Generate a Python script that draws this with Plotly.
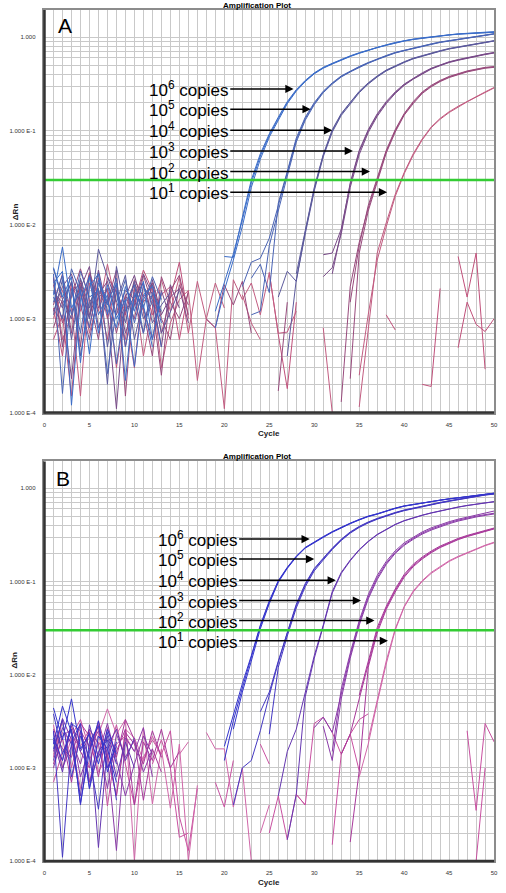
import plotly.graph_objects as go

N = None
cycles = list(range(1, 51))
threshold = 0.03
copy_exponents = [6, 5, 4, 3, 2, 1]
ytick_values = [1e-4, 1e-3, 1e-2, 1e-1, 1.0]
ytick_labels = ["1.000 E-4", "1.000 E-3", "1.000 E-2", "1.000 E-1", "1.000"]
xtick_values = [0, 5, 10, 15, 20, 25, 30, 35, 40, 45, 50]
xtick_labels = ["0", "5", "10", "15", "20", "25", "30", "35", "40", "45", "50"]

# ---------------- Panel A : delta Rn per cycle (replicates per dilution) ----------------
A_1e6 = [
    [3.5e-3, 1.7e-3, 2.8e-3, 3.4e-4, 2.2e-3, 3.0e-3, 1.1e-3, 2.4e-3, 2.2e-4, 1.9e-3,
     1.4e-3, 5e-4, N, N, N, N, N, N, 1.2e-3, 2.4e-3,
     4.9e-3, 1.12e-2, 2.8e-2, 5.4e-2, 9.0e-2, 0.135, 0.2, 0.27, 0.34, 0.41,
     0.47, 0.52, 0.575, 0.625, 0.675, 0.725, 0.775, 0.82, 0.87, 0.91,
     0.945, 0.975, 1.0, 1.03, 1.055, 1.075, 1.09, 1.1, 1.12, 1.13],
    [1.8e-3, 5.8e-3, 1.3e-3, 2.0e-3, 4.2e-4, 2.6e-3, 1.5e-3, 8e-4, 2.2e-3, 1.2e-3,
     2.5e-3, 6e-4, 1.9e-3, N, N, N, N, N, 8e-4, 2.0e-3,
     4.2e-3, 9.6e-3, 2.5e-2, 5.0e-2, 8.6e-2, 0.13, 0.195, 0.265, 0.335, 0.405,
     0.465, 0.515, 0.57, 0.62, 0.67, 0.72, 0.77, 0.815, 0.865, 0.905,
     0.94, 0.97, 0.995, 1.025, 1.05, 1.07, 1.085, 1.095, 1.11, 1.12],
    [2.4e-3, 3.2e-3, 1.2e-4, 1.6e-3, 2.8e-3, 7e-4, 2.3e-3, 1.0e-3, 1.6e-3, 3.1e-4,
     1.8e-3, 2.2e-3, 9e-4, N, N, N, N, N, N, 4.6e-3,
     4.5e-3, 1.2e-2, 3.0e-2, 5.7e-2, 9.3e-2, 0.14, 0.205, 0.275, 0.345, 0.415,
     0.475, 0.525, 0.58, 0.63, 0.68, 0.73, 0.78, 0.825, 0.875, 0.915,
     0.95, 0.98, 1.005, 1.035, 1.06, 1.08, 1.095, 1.105, 1.125, 1.14],
]
A_1e5 = [
    [1.5e-3, 2.9e-3, 1.1e-3, 3.2e-3, 1.7e-3, 2.0e-3, 2.6e-4, 1.3e-3, 2.6e-3, 9e-4,
     2.2e-3, 1.6e-3, 5e-4, N, N, N, N, N, N, N,
     N, 2.2e-3, 4.0e-3, 4.4e-3, 7.2e-3, 1.6e-2, 3.5e-2, 8.0e-2, 0.135, 0.195,
     0.26, 0.32, 0.38, 0.43, 0.48, 0.53, 0.58, 0.63, 0.68, 0.72,
     0.76, 0.8, 0.84, 0.88, 0.91, 0.94, 0.97, 1.0, 1.04, 1.08],
    [3.0e-3, 1.6e-4, 2.1e-3, 7e-4, 2.9e-3, 1.1e-3, 1.8e-3, 3.3e-4, 1.5e-3, 2.3e-3,
     7e-4, 1.9e-3, 1.2e-3, N, N, N, N, N, N, N,
     N, N, 1.1e-3, 1.2e-3, 6.0e-3, 1.45e-2, 3.3e-2, 7.6e-2, 0.13, 0.19,
     0.255, 0.315, 0.375, 0.425, 0.475, 0.525, 0.575, 0.625, 0.675, 0.715,
     0.755, 0.795, 0.835, 0.875, 0.905, 0.935, 0.965, 0.995, 1.035, 1.075],
    [1.7e-3, 1.0e-3, 3.4e-3, 1.9e-3, 8e-4, 2.4e-3, 1.4e-3, 2.7e-3, 5e-4, 1.8e-3,
     1.3e-3, 2.8e-3, 1.6e-3, N, N, N, N, N, N, N,
     N, N, 2.7e-3, 3.8e-3, 1.9e-3, 1.7e-2, 3.7e-2, 8.4e-2, 0.14, 0.2,
     0.265, 0.325, 0.385, 0.435, 0.485, 0.535, 0.585, 0.635, 0.685, 0.725,
     0.765, 0.805, 0.845, 0.885, 0.915, 0.945, 0.975, 1.005, 1.045, 1.085],
]
A_1e4 = [
    [2.0e-3, 1.3e-3, 2.5e-3, 4e-4, 1.5e-3, 2.1e-3, 2.0e-4, 3.6e-3, 1.2e-3, 1.7e-3,
     2.4e-3, 9e-4, 1.4e-3, 1.9e-3, N, N, N, N, N, N,
     N, N, N, N, N, 1.7e-3, 3.2e-3, 2.5e-3, 8.5e-3, 2.4e-2,
     5.5e-2, 0.1, 0.15, 0.2, 0.26, 0.32, 0.38, 0.44, 0.49, 0.54,
     0.59, 0.63, 0.67, 0.71, 0.75, 0.78, 0.82, 0.85, 0.88, 0.91],
    [1.1e-3, 2.6e-3, 6e-4, 2.2e-3, 1.0e-3, 5.5e-3, 2.8e-3, 1.5e-3, 2.9e-3, 6e-4,
     1.6e-3, 2.3e-3, 7e-4, 1.2e-3, 2.0e-3, N, N, N, N, N,
     N, N, N, N, N, N, 4e-4, 2.6e-3, 8.0e-3, 2.3e-2,
     5.3e-2, 0.097, 0.146, 0.195, 0.255, 0.315, 0.375, 0.435, 0.485, 0.535,
     0.585, 0.625, 0.665, 0.705, 0.745, 0.775, 0.815, 0.845, 0.875, 0.905],
    [3.4e-3, 1.6e-3, 1.0e-3, 2.7e-3, 1.3e-3, 3.1e-3, 5e-4, 2.0e-3, 9e-4, 2.5e-3,
     1.0e-3, 1.5e-3, N, N, N, N, N, N, N, N,
     N, N, N, N, N, N, N, 3.0e-3, 9.0e-3, 2.5e-2,
     5.6e-2, 0.103, 0.153, 0.204, 0.264, 0.325, 0.385, 0.445, 0.495, 0.545,
     0.595, 0.635, 0.675, 0.715, 0.755, 0.785, 0.825, 0.855, 0.885, 0.915],
]
A_1e3 = [
    [1.2e-3, 2.2e-3, 3.0e-3, 1.4e-3, 6e-4, 1.8e-3, 2.5e-3, 1.1e-3, 2.0e-3, 1.6e-3,
     7e-4, 2.6e-3, 1.1e-3, 1.7e-3, 2.1e-3, 9e-4, N, N, N, N,
     N, N, N, N, N, N, N, N, N, N,
     4.8e-3, 5.0e-3, 9.0e-3, 2.7e-2, 6.0e-2, 0.1, 0.148, 0.2, 0.255, 0.31,
     0.36, 0.41, 0.46, 0.5, 0.54, 0.57, 0.6, 0.63, 0.655, 0.68],
    [2.7e-3, 5e-4, 1.9e-3, 2.4e-3, 1.0e-3, 3.3e-3, 1.2e-3, 1.1e-4, 1.7e-3, 2.9e-3,
     1.3e-3, 6e-4, 2.0e-3, 1.0e-3, N, N, N, N, N, N,
     N, N, N, N, N, N, N, N, N, N,
     2.8e-3, 3.5e-3, 8.0e-3, 2.5e-2, 5.6e-2, 0.096, 0.143, 0.195, 0.25, 0.305,
     0.355, 0.405, 0.455, 0.495, 0.535, 0.565, 0.595, 0.625, 0.65, 0.675],
    [1.9e-3, 1.5e-3, 2.3e-4, 2.1e-3, 3.6e-3, 8e-4, 1.6e-3, 2.3e-3, 7e-4, 1.4e-3,
     3.0e-3, 1.8e-3, 5e-4, 2.3e-3, 1.3e-3, N, N, N, N, N,
     N, N, N, N, N, N, N, N, N, N,
     N, 3.0e-3, 8.6e-3, 2.8e-2, 6.2e-2, 0.103, 0.152, 0.205, 0.26, 0.315,
     0.365, 0.415, 0.465, 0.505, 0.545, 0.575, 0.605, 0.635, 0.66, 0.685],
]
A_1e2 = [
    [1.4e-3, 3.0e-3, 7e-4, 2.6e-3, 1.1e-3, 2.0e-3, 1.5e-3, 3.3e-3, 1.5e-4, 2.2e-3,
     1.2e-3, 4e-4, 2.8e-3, 1.5e-3, 1.0e-3, 1.9e-3, N, 1.0e-3, 8e-4, 2.3e-3,
     1.4e-3, 2.5e-3, 7e-4, N, N, 1.7e-4, 1.5e-3, N, N, N,
     N, N, 1.3e-4, 2.2e-3, 6.5e-3, 1.5e-2, 3.0e-2, 6.0e-2, 0.1, 0.15,
     0.2, 0.255, 0.3, 0.34, 0.375, 0.405, 0.43, 0.45, 0.47, 0.48],
    [8e-4, 1.6e-3, 2.4e-3, 5e-4, 3.0e-3, 1.3e-3, 2.1e-3, 7e-4, 1.8e-3, 1.0e-3,
     2.9e-3, 1.4e-3, 2.5e-4, 2.0e-3, 2.9e-3, 1.1e-3, N, N, N, N,
     N, N, N, N, N, N, N, N, N, N,
     N, N, N, 2.3e-4, 5.0e-3, 1.4e-2, 2.9e-2, 5.8e-2, 0.097, 0.147,
     0.195, 0.25, 0.295, 0.335, 0.37, 0.4, 0.425, 0.445, 0.465, 0.475],
    [2.3e-3, 9e-4, 1.7e-3, 3.4e-3, 1.6e-3, 6e-4, 2.8e-3, 1.9e-3, 1.1e-3, 2.6e-3,
     1.7e-3, 2.4e-3, 1.0e-3, 6e-4, 2.3e-3, 1.4e-3, N, N, N, N,
     N, N, N, N, N, N, N, N, N, N,
     N, N, N, 1.5e-3, 6.0e-3, 1.6e-2, 3.1e-2, 6.2e-2, 0.103, 0.153,
     0.205, 0.26, 0.305, 0.345, 0.38, 0.41, 0.435, 0.455, 0.475, 0.485],
]
A_1e1 = [
    [1.0e-3, 2.0e-3, 1.3e-3, 1.5e-4, 2.4e-3, 1.2e-3, 3.8e-3, 1.4e-3, 6e-4, 2.1e-3,
     4e-4, 1.3e-3, 2.6e-3, 1.2e-3, 2.8e-3, 7e-4, 2.5e-3, 9.8e-4, 8e-4, 1.1e-4,
     2.6e-3, 1.6e-3, 2.4e-3, 1.1e-3, 3.1e-3, 7e-4, 7.2e-4, 1.2e-3, N, N,
     8e-4, 1.0e-4, N, N, 1.15e-4, 7.6e-4, 5.0e-3, 1.05e-2, 2.1e-2, 3.6e-2,
     5.7e-2, 8.2e-2, 0.11, 0.136, 0.16, 0.183, 0.207, 0.232, 0.26, 0.29],
    [2.8e-3, 6e-4, 1.1e-3, 2.3e-3, 7e-4, 1.7e-3, 2.0e-3, 3.0e-4, 1.3e-3, 2.4e-3,
     1.5e-3, 2.1e-3, 3e-4, 9e-4, 1.6e-3, 2.0e-3, 2.2e-4, 1.0e-3, 2.4e-3, 1.3e-3,
     N, 1.8e-3, 9e-4, 6e-4, N, N, N, N, N, N,
     N, N, N, N, 2.5e-4, 1.1e-3, 4.2e-3, 9.5e-3, 2.0e-2, 3.5e-2,
     5.5e-2, 8.0e-2, 0.108, 0.133, 0.157, 0.18, 0.204, 0.229, 0.257, 0.287],
]
A_ntc = [
    [6e-4, 1.1e-3, 1.5e-4, 1.9e-3, 8e-4, 2.7e-3, 1.0e-3, 2.2e-3, 5e-4, 1.5e-3,
     3.3e-3, 2.0e-3, 7e-4, 1.7e-3, 4.0e-3, 1.0e-3, N, N, N, N,
     N, N, N, N, 3.1e-3, 6.8e-4, 1.8e-4, 1.5e-3, N, N,
     N, N, N, N, N, N, N, 1.1e-3, 7.6e-4, N,
     N, 2.0e-4, 1.9e-4, 2.1e-3, N, 4.6e-3, 1.7e-3, 5.0e-3, 2.9e-4, N],
    [1.3e-3, 4e-4, 2.5e-3, 1.2e-3, 3.1e-3, 1.7e-3, 6e-4, 1.9e-3, 1.2e-3, 3e-4,
     2.3e-3, 1.1e-3, 1.8e-3, 2.2e-3, 6e-4, 2.0e-3, N, N, N, N,
     N, N, N, N, N, N, N, N, N, N,
     N, N, N, N, N, N, N, N, N, N,
     N, N, N, N, N, 4.9e-4, 1.5e-3, 8.7e-4, 7.3e-4, 1.0e-3],
]

# ---------------- Panel B ----------------
B_1e6 = [
    [4.4e-3, 2.0e-3, 5.5e-3, 1.6e-3, 2.3e-3, 1.1e-3, 2.6e-3, 1.4e-3, N, N,
     N, N, N, N, N, N, N, N, N, 1.2e-3,
     3.2e-3, 7.2e-3, 1.5e-2, 3.3e-2, 6.0e-2, 0.1, 0.14, 0.185, 0.23, 0.265,
     0.3, 0.34, 0.38, 0.42, 0.46, 0.5, 0.53, 0.57, 0.61, 0.645,
     0.67, 0.7, 0.725, 0.75, 0.77, 0.79, 0.81, 0.83, 0.86, 0.885],
    [1.8e-3, 4.6e-3, 2.4e-3, 4.2e-4, 1.5e-3, 3.2e-3, 9e-4, 1.9e-3, N, N,
     N, N, N, N, N, N, N, N, N, N,
     2.6e-3, 6.5e-3, 1.4e-2, 3.1e-2, 5.8e-2, 0.098, 0.138, 0.183, 0.228, 0.262,
     0.297, 0.337, 0.377, 0.417, 0.457, 0.497, 0.527, 0.567, 0.607, 0.642,
     0.667, 0.697, 0.722, 0.747, 0.767, 0.787, 0.807, 0.827, 0.857, 0.882],
    [2.1e-3, 1.2e-3, 3.0e-3, 2.5e-3, 6e-4, 2.2e-3, 1.6e-3, 7e-4, N, N,
     N, N, N, N, N, N, N, N, N, 1.7e-3,
     3.8e-3, 8.0e-3, 1.6e-2, 3.4e-2, 6.2e-2, 0.102, 0.142, 0.187, 0.232, 0.268,
     0.303, 0.343, 0.383, 0.423, 0.463, 0.503, 0.533, 0.573, 0.613, 0.648,
     0.673, 0.703, 0.728, 0.753, 0.773, 0.793, 0.813, 0.833, 0.863, 0.888],
]
B_1e5 = [
    [3.8e-3, 1.4e-3, 2.6e-3, 4.0e-4, 1.9e-3, 2.8e-3, 1.0e-3, 1.7e-3, N, N,
     N, N, N, N, N, N, N, N, N, N,
     4.0e-4, 1.0e-3, 1.2e-3, 2.5e-3, 6.0e-3, 1.35e-2, 2.8e-2, 5.5e-2, 9.2e-2, 0.135,
     0.175, 0.225, 0.28, 0.335, 0.385, 0.43, 0.47, 0.51, 0.545, 0.58,
     0.61, 0.64, 0.67, 0.7, 0.73, 0.76, 0.79, 0.82, 0.85, 0.87],
    [1.6e-3, 3.3e-3, 8e-4, 2.2e-3, 1.3e-3, 3.6e-4, 2.4e-3, 1.1e-3, N, N,
     N, N, N, N, N, N, N, N, N, N,
     N, N, N, N, 2.3e-3, 1.2e-2, 2.6e-2, 5.2e-2, 8.8e-2, 0.13,
     0.17, 0.22, 0.275, 0.33, 0.38, 0.425, 0.465, 0.505, 0.54, 0.575,
     0.605, 0.635, 0.665, 0.695, 0.725, 0.755, 0.785, 0.815, 0.845, 0.865],
    [2.5e-3, 1.1e-4, 1.9e-3, 3.0e-3, 6e-4, 1.5e-3, 2.0e-3, 4.5e-4, N, N,
     N, N, N, N, N, N, N, N, N, N,
     N, N, N, 4.0e-3, 6.5e-3, 1.4e-2, 2.9e-2, 5.7e-2, 9.5e-2, 0.138,
     0.178, 0.228, 0.284, 0.34, 0.39, 0.435, 0.475, 0.515, 0.55, 0.585,
     0.615, 0.645, 0.675, 0.705, 0.735, 0.765, 0.795, 0.825, 0.855, 0.875],
]
B_1e4 = [
    [1.2e-3, 2.7e-3, 1.8e-3, 5e-4, 2.9e-3, 1.3e-3, 2.2e-3, 8e-4, 1.9e-3, 1.0e-3,
     N, N, N, N, N, N, N, N, N, N,
     N, N, N, N, N, 5.0e-4, 1.5e-3, 2.6e-3, 6.5e-3, 1.6e-2,
     3.4e-2, 7.8e-2, 0.125, 0.17, 0.22, 0.27, 0.32, 0.365, 0.41, 0.45,
     0.485, 0.515, 0.545, 0.575, 0.605, 0.63, 0.655, 0.68, 0.7, 0.72],
    [2.0e-3, 9e-4, 3.1e-3, 1.5e-3, 2.4e-3, 1.4e-4, 1.7e-3, 2.6e-3, 1.2e-3, 2.1e-3,
     N, N, N, N, N, N, N, N, N, N,
     N, N, N, N, N, N, 1.7e-4, 5.2e-4, 5.8e-3, 1.5e-2,
     3.3e-2, 7.5e-2, 0.122, 0.167, 0.217, 0.267, 0.317, 0.362, 0.407, 0.447,
     0.482, 0.512, 0.542, 0.572, 0.602, 0.627, 0.652, 0.677, 0.697, 0.717],
]
B_1e3 = [
    [1.5e-3, 3.4e-3, 2.0e-3, 1.1e-3, 2.6e-3, 1.8e-3, 6e-4, 2.3e-3, 1.3e-3, 2.0e-3,
     9e-4, 1.6e-3, N, N, N, N, N, N, N, N,
     N, N, N, N, N, N, N, N, N, 2.7e-3,
     3.5e-3, 2.4e-3, 6.2e-3, 1.6e-2, 3.6e-2, 6.8e-2, 0.11, 0.157, 0.205, 0.25,
     0.29, 0.33, 0.365, 0.397, 0.427, 0.455, 0.48, 0.502, 0.522, 0.54],
    [2.4e-3, 1.0e-3, 1.7e-3, 2.9e-3, 7e-4, 1.4e-3, 3.0e-3, 1.2e-3, 5e-4, 1.1e-3,
     2.2e-3, 1.4e-3, N, N, N, N, N, N, N, N,
     N, N, N, N, N, N, N, N, N, N,
     2.8e-3, 1.2e-3, 5.5e-3, 1.5e-2, 3.4e-2, 6.5e-2, 0.105, 0.152, 0.2, 0.244,
     0.283, 0.322, 0.356, 0.387, 0.417, 0.445, 0.47, 0.492, 0.512, 0.53],
    [1.0e-3, 2.2e-3, 2.6e-3, 8e-4, 1.6e-3, 2.5e-3, 1.3e-3, 1.3e-4, 2.1e-3, 1.5e-3,
     2.7e-3, 8e-4, N, N, N, N, N, N, N, N,
     N, N, N, N, N, N, N, N, N, N,
     N, 1.5e-3, 7.0e-3, 1.7e-2, 3.8e-2, 7.2e-2, 0.116, 0.164, 0.213, 0.26,
     0.3, 0.34, 0.376, 0.408, 0.438, 0.466, 0.492, 0.518, 0.545, 0.57],
]
B_1e2 = [
    [1.9e-3, 1.2e-3, 2.8e-3, 1.5e-3, 1.0e-3, 3.2e-3, 1.4e-3, 5e-4, 2.4e-3, 1.8e-3,
     1.1e-3, 2.5e-3, 1.3e-3, N, N, N, N, N, N, N,
     N, N, N, N, N, N, N, N, N, N,
     N, N, 1.4e-3, 2.3e-3, 5.5e-3, 1.3e-2, 3.0e-2, 5.2e-2, 8.0e-2, 0.115,
     0.148, 0.178, 0.207, 0.235, 0.26, 0.285, 0.307, 0.328, 0.35, 0.37],
    [1.1e-3, 2.1e-3, 7e-4, 2.5e-3, 1.7e-3, 2.9e-3, 1.0e-3, 1.5e-3, 2.6e-3, 4e-4,
     1.9e-3, 1.2e-3, 2.6e-3, 1.0e-3, 1.5e-3, N, N, N, N, N,
     N, N, N, N, N, N, N, N, N, N,
     N, N, N, 1.6e-4, 9.3e-4, 1.2e-2, 2.8e-2, 5.0e-2, 7.7e-2, 0.111,
     0.144, 0.174, 0.203, 0.231, 0.256, 0.281, 0.303, 0.324, 0.346, 0.366],
    [2.6e-3, 1.6e-3, 1.3e-3, 3.0e-3, 2.2e-3, 8e-4, 2.7e-3, 1.3e-3, 3.3e-3, 2.0e-3,
     4.5e-4, 1.6e-3, 9e-4, N, N, N, N, N, N, N,
     N, N, N, N, N, N, N, N, N, N,
     N, N, N, N, 6.0e-3, 1.4e-2, 3.2e-2, 5.4e-2, 8.3e-2, 0.119,
     0.153, 0.183, 0.212, 0.24, 0.265, 0.29, 0.312, 0.333, 0.355, 0.375],
]
B_1e1 = [
    [1.4e-3, 2.4e-3, 1.9e-3, 6e-4, 1.2e-3, 2.3e-3, 4.3e-3, 2.3e-3, 3.3e-3, 1.0e-4,
     2.7e-3, 4.1e-4, 1.6e-3, 3.7e-4, 1.8e-3, 1.0e-4, 6.5e-4, N, N, N,
     N, N, N, 2.0e-4, 4.0e-4, N, N, N, N, N,
     N, N, N, N, 8e-4, 1.8e-3, 5.0e-3, 1.3e-2, 3.0e-2, 5.3e-2,
     7.7e-2, 0.1, 0.122, 0.143, 0.164, 0.183, 0.202, 0.222, 0.242, 0.26],
    [2.9e-3, 1.0e-3, 2.1e-3, 1.7e-3, 2.6e-3, 9e-4, 1.4e-3, 5e-4, 2.6e-3, 2.1e-3,
     1.2e-3, 2.2e-3, 1.3e-3, N, 1.4e-3, 1.9e-3, N, 2.4e-3, 1.6e-3, 1.6e-3,
     3.8e-4, 1.0e-3, 1.0e-4, N, N, N, N, N, N, N,
     N, N, N, N, N, 2.0e-3, 5.5e-3, 1.4e-2, 3.1e-2, 5.4e-2,
     7.9e-2, 0.102, 0.125, 0.146, 0.167, 0.186, 0.205, 0.225, 0.245, 0.264],
]
B_ntc = [
    [1.3e-3, 3.2e-3, 1.0e-3, 2.5e-3, 7e-4, 1.9e-3, 1.3e-3, 2.9e-3, 1.1e-3, 4e-4,
     1.3e-3, 2.0e-3, 1.4e-3, 2.5e-3, 3.0e-4, 1.3e-4, 6.0e-4, N, 7.0e-4, 3.8e-4,
     1.2e-3, N, N, 1.8e-3, 1.1e-3, N, N, 5.2e-4, 4.0e-4, 3.0e-3,
     3.5e-3, 2.4e-3, 1.4e-3, 2.3e-3, 9.3e-4, N, N, N, N, N,
     N, N, N, N, N, N, 2.5e-3, 3.5e-4, 3.0e-3, 1.9e-3],
    [7e-4, 1.5e-3, 2.2e-3, 3.3e-3, 1.6e-3, 2.8e-3, 3.9e-4, 1.8e-3, 2.2e-3, 1.5e-3,
     N, 1.1e-3, 2.0e-3, 1.0e-3, 1.8e-4, 2.0e-4, N, N, N, N,
     N, N, N, N, 2.0e-4, 5.0e-4, 1.7e-4, 5.2e-4, 4.0e-4, N,
     N, 1.5e-4, 1.4e-3, 2.3e-3, 3.3e-3, 3.8e-3, N, N, N, N,
     N, N, N, N, N, N, N, 1.0e-4, 1.0e-3, N],
]

# ---------------- styling ----------------
A_colors = ["#3a6cc8", "#4a64b4", "#5c5a9c", "#784a88", "#984a7c", "#c25c80", "#c0507a"]
B_colors = ["#3434cc", "#4438c2", "#6436b0", "#8a3aa8", "#a8389a", "#d066a8", "#c850a0"]
A_groups = [A_1e6, A_1e5, A_1e4, A_1e3, A_1e2, A_1e1, A_ntc]
B_groups = [B_1e6, B_1e5, B_1e4, B_1e3, B_1e2, B_1e1, B_ntc]

FONT = "Liberation Sans, Arial, sans-serif"
GRID = "#c9c9c9"

fig = go.Figure()

panels = [
    ("x", "y", A_groups, A_colors),
    ("x2", "y2", B_groups, B_colors),
]
for xa, ya, groups, colors in panels:
    for grp, col in zip(reversed(groups), reversed(colors)):
        for rep in grp:
            fig.add_trace(go.Scatter(x=cycles, y=rep, mode="lines",
                                     line=dict(color=col, width=1),
                                     connectgaps=False, showlegend=False,
                                     hoverinfo="skip", xaxis=xa, yaxis=ya))
    fig.add_trace(go.Scatter(x=[0, 50], y=[threshold, threshold], mode="lines",
                             line=dict(color="#33cc33", width=2.5),
                             showlegend=False, hoverinfo="skip", xaxis=xa, yaxis=ya,
                             cliponaxis=False))

# minor grid positions (2..9 per decade, every cycle)
y_minor = []
for d in range(-4, 0):
    for k in range(2, 10):
        y_minor.append(k * 10 ** d)
x_minor = [c for c in range(0, 51) if c % 5 != 0]

XDOM = [43 / 506, 498 / 506]
YDOM_A = [1 - 414 / 893, 1 - 10 / 893]
YDOM_B = [1 - 864 / 893, 1 - 463 / 893]

def xaxis_cfg(anchor):
    return dict(domain=XDOM, range=[0, 50], tickmode="array", tickvals=xtick_values,
                ticktext=xtick_labels, showgrid=True, gridcolor=GRID, gridwidth=1,
                minor=dict(tickmode="array", tickvals=x_minor, showgrid=True,
                           gridcolor=GRID, gridwidth=1, ticks=""),
                zeroline=False, showline=True, mirror=True, linecolor="#8c8c8c",
                linewidth=1.5, ticks="", ticklabelstandoff=5,
                tickfont=dict(family=FONT, size=6, color="#333333"), anchor=anchor)

def yaxis_cfg(dom, anchor):
    return dict(domain=dom, type="log", range=[-4, 0.288], tickmode="array",
                tickvals=ytick_values, ticktext=ytick_labels, showgrid=True,
                gridcolor=GRID, gridwidth=1,
                minor=dict(tickmode="array", tickvals=y_minor, showgrid=True,
                           gridcolor=GRID, gridwidth=1, ticks=""),
                zeroline=False, showline=True, mirror=True,
                linecolor="#8c8c8c", linewidth=1.5, ticks="", ticklabelstandoff=6,
                tickfont=dict(family=FONT, size=6, color="#333333"), anchor=anchor)

fig.update_layout(
    width=506, height=893, margin=dict(l=0, r=0, t=0, b=0),
    paper_bgcolor="white", plot_bgcolor="white", showlegend=False,
    xaxis=xaxis_cfg("y"), yaxis=yaxis_cfg(YDOM_A, "x"),
    xaxis2=xaxis_cfg("y2"), yaxis2=yaxis_cfg(YDOM_B, "x2"),
)

shapes = []
for xr, yr in [("x", "y"), ("x2", "y2")]:
    shapes.append(dict(type="line", xref=xr + " domain", yref=yr + " domain",
                       x0=0, x1=0, y0=-0.003, y1=1, line=dict(color="#333333", width=2.5)))
    shapes.append(dict(type="line", xref=xr + " domain", yref=yr + " domain",
                       x0=0, x1=1, y0=0, y1=0, line=dict(color="#333333", width=2.5)))
fig.update_layout(shapes=shapes)

ann = []
A_heads = [27.7, 29.6, 32.0, 34.3, 36.2, 38.1]
A_ys = [-0.553, -0.769, -0.993, -1.213, -1.433, -1.652]
B_heads = [29.5, 30.0, 32.4, 35.2, 36.7, 38.2]
B_ys = [-0.545, -0.759, -0.987, -1.205, -1.419, -1.636]
for xr, yr, heads, ys, tail in [("x", "y", A_heads, A_ys, 20.66), ("x2", "y2", B_heads, B_ys, 21.65)]:
    for e, hx, yy in zip(copy_exponents, heads, ys):
        ann.append(dict(text="10<sup>%d</sup> copies" % e, x=hx, y=yy, xref=xr, yref=yr,
                        ax=tail, ay=yy, axref=xr, ayref=yr, xanchor="right",
                        showarrow=True, arrowhead=2, arrowsize=1.1, arrowwidth=1.5,
                        arrowcolor="black", standoff=0, startstandoff=0,
                        font=dict(family=FONT, size=17, color="black")))

def paper_text(text, px, py, size, color, angle=0):
    return dict(text=text, x=px / 506, y=1 - py / 893, xref="paper", yref="paper",
                xanchor="center", yanchor="middle", showarrow=False, textangle=angle,
                font=dict(family=FONT, size=size, color=color))

for label, lx, ly, ty, cy, dy in [("A", 64, 26, 6, 435, 212), ("B", 62, 480, 458, 885, 662)]:
    ann.append(paper_text(label, lx, ly, 21, "black"))
    ann.append(paper_text("<b>Amplification Plot</b>", 258, ty, 8, "black"))
    ann.append(paper_text("<b>Cycle</b>", 270, cy, 8, "#222222"))
    ann.append(paper_text("<b>ΔRn</b>", 13, dy, 8, "#222222", -90))
fig.update_layout(annotations=ann)

fig.write_html("out.html", config={"displayModeBar": False},
               post_script="document.body.style.margin='0px';document.body.style.overflow='hidden';")
